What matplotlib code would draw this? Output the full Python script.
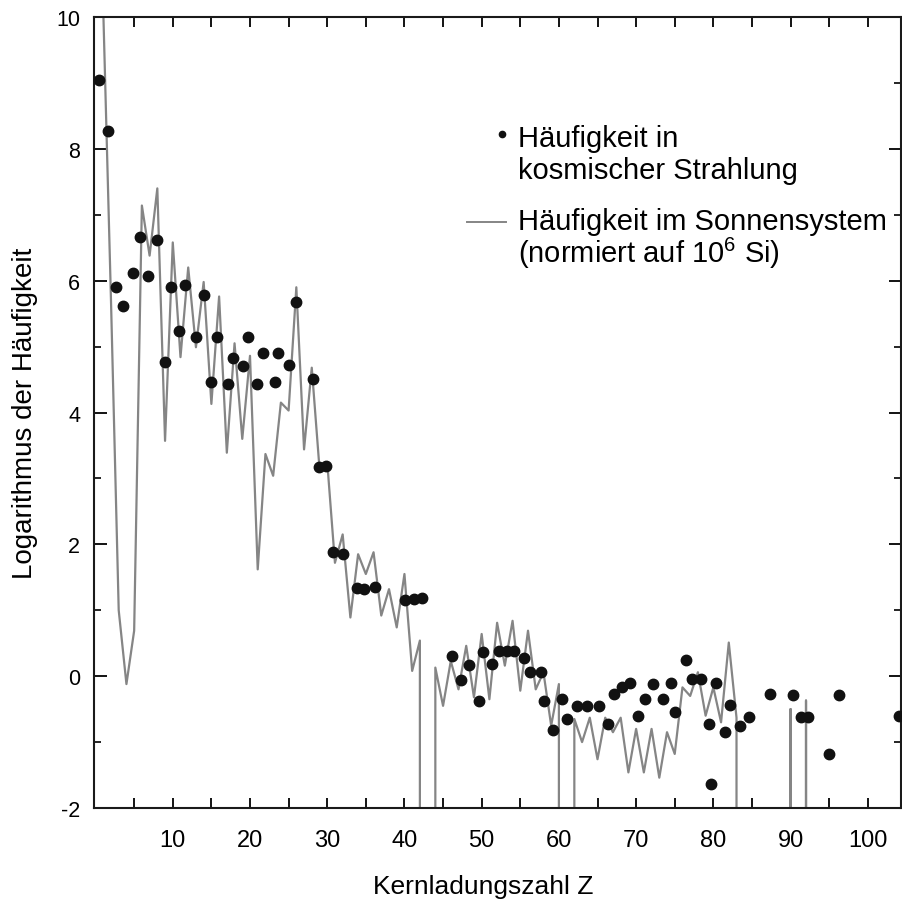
import numpy as np
import matplotlib
matplotlib.use("Agg")
import matplotlib.pyplot as plt
from matplotlib.ticker import FixedLocator, MultipleLocator

plt.rcParams['font.family'] = ['Liberation Sans', 'DejaVu Sans']
plt.rcParams['mathtext.fontset'] = 'custom'
plt.rcParams['mathtext.rm'] = 'Liberation Sans'
plt.rcParams['mathtext.it'] = 'Liberation Sans:italic'

# Cosmic-ray abundances (log10), plotted at their charge positions
z_cosmic = [0.5, 1.6, 2.7, 3.5, 4.9, 5.7, 6.8, 7.9, 9.0, 9.8,
            10.8, 11.6, 13.0, 14.0, 15.0, 15.7, 17.1, 17.8, 19.1, 19.8,
            20.9, 21.7, 23.3, 23.6, 25.0, 25.9, 28.1, 28.9, 29.9, 30.8,
            32.1, 33.9, 34.8, 36.2, 40.1, 41.2, 42.3, 46.1, 47.3, 48.4,
            49.6, 50.2, 51.3, 52.2, 53.3, 54.2, 55.5, 56.3, 57.7, 58.1,
            59.3, 60.4, 61.0, 62.3, 63.6, 65.2, 66.4, 67.2, 68.2, 69.2,
            70.2, 71.2, 72.2, 73.5, 74.5, 75.0, 76.5, 77.3, 78.4, 79.5,
            79.7, 80.4, 81.5, 82.2, 83.5, 84.6, 87.3, 90.3, 91.3, 92.3,
            95.0, 96.3, 104.0]
log_cosmic = [9.04, 8.27, 5.90, 5.61, 6.12, 6.67, 6.07, 6.62, 4.77, 5.90,
              5.23, 5.93, 5.15, 5.78, 4.46, 5.15, 4.43, 4.83, 4.71, 5.15,
              4.43, 4.91, 4.47, 4.90, 4.72, 5.68, 4.51, 3.18, 3.19, 1.88,
              1.86, 1.34, 1.32, 1.35, 1.15, 1.17, 1.19, 0.31, -0.06, 0.17,
              -0.37, 0.37, 0.18, 0.38, 0.38, 0.38, 0.28, 0.07, 0.06, -0.37,
              -0.81, -0.34, -0.65, -0.46, -0.46, -0.46, -0.72, -0.27, -0.17, -0.11,
              -0.60, -0.34, -0.12, -0.34, -0.11, -0.54, 0.24, -0.05, -0.05, -0.73,
              -1.63, -0.10, -0.85, -0.44, -0.76, -0.62, -0.27, -0.29, -0.62, -0.62,
              -1.18, -0.28, -0.60]

# Solar-system abundances (log10, normalised to 1e6 Si) for Z = 1..92;
# nan marks elements without a stable abundance (Tc, Pm, Po-Ac, Pa)
nan = np.nan
log_solar = [10.1, 5.7, 1.0, -0.12, 0.69, 7.14, 6.38, 7.40, 3.57, 6.58,
             4.84, 6.20, 4.99, 5.98, 4.13, 5.76, 3.39, 5.05, 3.60, 4.86,
             1.62, 3.37, 3.04, 4.15, 4.03, 5.90, 3.44, 4.68, 3.15, 3.25,
             1.72, 2.15, 0.89, 1.85, 1.55, 1.88, 0.92, 1.32, 0.74, 1.55,
             0.08, 0.54, nan, 0.13, -0.45, 0.23, -0.20, 0.46, -0.32, 0.64,
             -0.35, 0.81, 0.16, 0.84, -0.22, 0.69, -0.20, 0.06, -0.75, -0.12,
             nan, -0.65, -1.00, -0.63, -1.26, -0.63, -0.85, -0.63, -1.46, -0.80,
             -1.46, -0.80, -1.54, -0.85, -1.18, -0.17, -0.30, 0.06, -0.60, -0.17,
             -0.70, 0.51, -0.63, nan, nan, nan, nan, nan, nan, -0.50,
             nan, -0.37]

x_ticks = [10, 20, 30, 40, 50, 60, 70, 80, 90, 100]
x_ticklabels = ['10', '20', '30', '40', '50', '60', '70', '80', '90', '100']
y_ticks = [-2, 0, 2, 4, 6, 8, 10]
y_ticklabels = ['-2', '0', '2', '4', '6', '8', '10']

fig = plt.figure(figsize=(9.03, 9.03), dpi=100)
ax = fig.add_axes([94 / 903, 1 - 809 / 903, 807 / 903, 791 / 903])
ax.set_xlim(-0.2, 104.3)
ax.set_ylim(-2, 10)

# Solar curve: each gap drops vertically out of the plot
z_solar = np.arange(1, len(log_solar) + 1)
sol = np.asarray(log_solar, dtype=float)
valid = ~np.isnan(sol)
floor = ax.get_ylim()[0] - 1.0
xs, ys = [], []
for i in range(len(sol)):
    if not valid[i]:
        continue
    if i > 0 and not valid[i - 1]:
        xs.append(z_solar[i]); ys.append(floor)
    xs.append(z_solar[i]); ys.append(sol[i])
    if i == len(sol) - 1 or not valid[i + 1]:
        xs.append(z_solar[i]); ys.append(floor)
line_color = '#858585'
ax.plot(xs, ys, color=line_color, lw=1.6, zorder=2)

ax.plot(z_cosmic, log_cosmic, 'o', color='#111111', ms=7.5, mec='#111111',
        zorder=3, clip_on=False)

# Axes frame and ticks
for sp in ax.spines.values():
    sp.set_linewidth(1.5)
    sp.set_color('#1a1a1a')

ax.set_xticks(x_ticks, labels=x_ticklabels, fontsize=17)
ax.xaxis.set_minor_locator(FixedLocator(list(range(5, 105, 5))))
ax.set_yticks(y_ticks, labels=y_ticklabels, fontsize=15.5)
ax.yaxis.set_minor_locator(MultipleLocator(1))

ax.tick_params(axis='x', which='both', direction='in', top=True, bottom=True,
               length=7, width=1.3, pad=15)
ax.tick_params(axis='y', which='major', direction='in', left=True, right=True,
               length=9, width=1.3, pad=10)
ax.tick_params(axis='y', which='minor', direction='in', left=True, right=True,
               length=5, width=1.2)

ax.set_xlabel('Kernladungszahl Z', fontsize=19)
ax.xaxis.set_label_coords(0.482, -0.083)
ax.set_ylabel('Logarithmus der Häufigkeit', fontsize=20)
ax.yaxis.set_label_coords(-0.07, 0.5)

# Key
ax.plot([0.505], [0.852], 'o', ms=4.5, color='#111111', transform=ax.transAxes,
        clip_on=False)
ax.text(0.526, 0.837, 'Häufigkeit in', transform=ax.transAxes, fontsize=21,
        ha='left', va='baseline')
ax.text(0.526, 0.797, 'kosmischer Strahlung', transform=ax.transAxes, fontsize=21,
        ha='left', va='baseline')
ax.plot([0.462, 0.511], [0.741, 0.741], color=line_color, lw=1.4,
        transform=ax.transAxes, clip_on=False)
ax.text(0.526, 0.732, 'Häufigkeit im Sonnensystem', transform=ax.transAxes,
        fontsize=21, ha='left', va='baseline')
ax.text(0.526, 0.690, '(normiert auf 10$^{6}$ Si)', transform=ax.transAxes,
        fontsize=21, ha='left', va='baseline')

fig.savefig('out.png', dpi=100)
